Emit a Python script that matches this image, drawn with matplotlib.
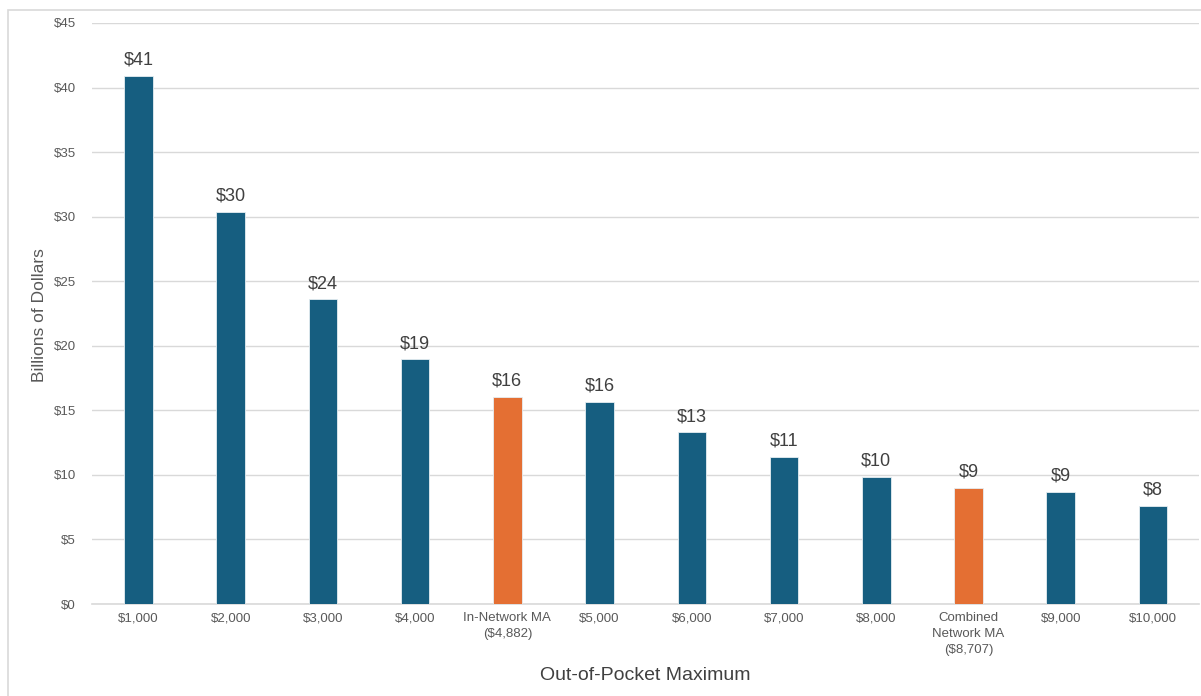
import matplotlib
matplotlib.use("Agg")
import matplotlib.pyplot as plt
from matplotlib.patches import Rectangle

categories = ["$1,000", "$2,000", "$3,000", "$4,000", "In-Network MA\n($4,882)",
              "$5,000", "$6,000", "$7,000", "$8,000", "Combined\nNetwork MA\n($8,707)",
              "$9,000", "$10,000"]
values = [40.9, 30.4, 23.6, 18.95, 16.05, 15.65, 13.3, 11.4, 9.85, 9.0, 8.7, 7.6]
highlight = [False, False, False, False, True, False, False, False, False, True, False, False]
y_ticks = [0, 5, 10, 15, 20, 25, 30, 35, 40, 45]

BLUE = "#165E80"
ORANGE = "#E46F33"
FONT = ["Liberation Sans", "DejaVu Sans"]
plt.rcParams["font.family"] = FONT

fig = plt.figure(figsize=(12.01, 6.96), dpi=100)
ax = fig.add_axes([92.4 / 1201, 1 - 604 / 696, (1199 - 92.4) / 1201, (604 - 23) / 696])

# outer frame
fig.patches.append(Rectangle((8 / 1201, -0.1), 1.2, 1 - 9.5 / 696 + 0.1, transform=fig.transFigure,
                             fill=False, edgecolor="#d9d9d9", linewidth=1.2, zorder=0))

x = list(range(len(categories)))
colors = [ORANGE if h else BLUE for h in highlight]
bars = ax.bar(x, values, width=0.31, color=colors, edgecolor="#e6eef2", linewidth=0.6, zorder=3)

for xi, v in zip(x, values):
    ax.annotate(f"${round(v):.0f}", (xi, v), xytext=(0, 5), textcoords="offset points",
                ha="center", va="bottom", fontsize=13, color="#404040")

ax.set_xlim(-0.5, len(categories) - 0.5)
ax.set_ylim(0, 45)
ax.set_yticks(y_ticks)
ax.set_yticklabels([f"${t}" for t in y_ticks])
ax.set_xticks(x)
ax.set_xticklabels(categories, linespacing=1.4)
ax.tick_params(axis="both", length=0, labelsize=9.5, colors="#595959")
ax.tick_params(axis="y", pad=12)
ax.tick_params(axis="x", pad=6)
ax.grid(axis="y", color="#d9d9d9", linewidth=1.0, zorder=0)
ax.set_axisbelow(True)
for s in ["top", "right", "left"]:
    ax.spines[s].set_visible(False)
ax.spines["bottom"].set_color("#d9d9d9")
ax.spines["bottom"].set_linewidth(1.2)

fig.text(40 / 1201, 1 - 315 / 696, "Billions of Dollars", rotation=90, ha="center", va="center",
         fontsize=12.5, color="#595959")
fig.text(645 / 1201, 1 - 675 / 696, "Out-of-Pocket Maximum", ha="center", va="center",
         fontsize=14, color="#404040")

fig.savefig("out.png", dpi=100)
